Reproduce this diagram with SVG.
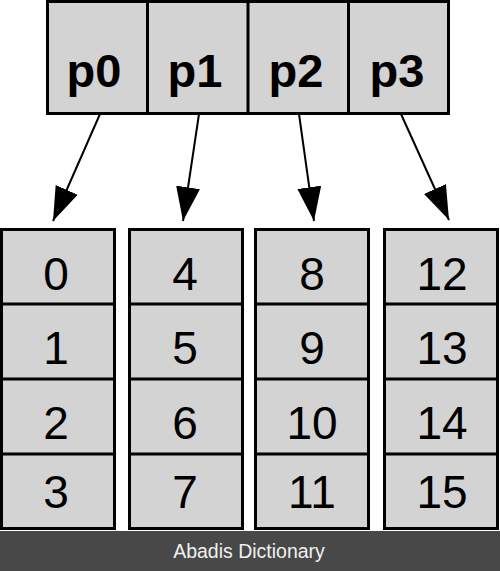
<svg xmlns="http://www.w3.org/2000/svg" width="500" height="571" viewBox="0 0 500 571">
<style>
.cell{fill:#d3d3d3;stroke:#000;stroke-width:3}
.div{stroke:#000;stroke-width:3}
.pl{font-family:"Liberation Sans",Arial,sans-serif;font-weight:bold;font-size:47px;text-anchor:middle;fill:#000}
.num{font-family:"Liberation Sans",Arial,sans-serif;font-size:46px;text-anchor:middle;fill:#000}
.conn{stroke:#000;stroke-width:2;fill:none;marker-end:url(#ah)}
.foot{font-family:"Liberation Sans",Arial,sans-serif;font-size:19.5px;text-anchor:middle;fill:#f0f0f0}
</style>
<defs>
<marker id="ah" markerUnits="userSpaceOnUse" viewBox="0 0 34 24" refX="34" refY="12" markerWidth="34" markerHeight="24" orient="auto">
<path d="M0,0 L34,12 L0,24 z" fill="#000"/>
</marker>
</defs>
<rect width="500" height="571" fill="#fff"/>
<g id="procs">
<rect class="cell" x="47.5" y="1.5" width="401" height="112"/>
<line class="div" x1="147.5" y1="1.5" x2="147.5" y2="113.5"/>
<line class="div" x1="248" y1="1.5" x2="248" y2="113.5"/>
<line class="div" x1="348.5" y1="1.5" x2="348.5" y2="113.5"/>
<text class="pl" x="94" y="87">p0</text>
<text class="pl" x="195" y="87">p1</text>
<text class="pl" x="296" y="87">p2</text>
<text class="pl" x="397" y="87">p3</text>
</g>
<g id="connectors">
<line class="conn" x1="100" y1="114" x2="53" y2="221"/>
<line class="conn" x1="199" y1="114" x2="183" y2="221"/>
<line class="conn" x1="299" y1="114" x2="314" y2="221"/>
<line class="conn" x1="401" y1="114" x2="449" y2="220"/>
</g>
<g id="col0">
<rect class="cell" x="1.5" y="229.5" width="113" height="299"/>
<line class="div" x1="1.5" y1="304" x2="114.5" y2="304"/>
<line class="div" x1="1.5" y1="379" x2="114.5" y2="379"/>
<line class="div" x1="1.5" y1="454" x2="114.5" y2="454"/>
<text class="num" x="56" y="290">0</text>
<text class="num" x="56" y="364">1</text>
<text class="num" x="56" y="439">2</text>
<text class="num" x="56" y="508">3</text>
</g>
<g id="col1">
<rect class="cell" x="129.5" y="229.5" width="113" height="299"/>
<line class="div" x1="129.5" y1="304" x2="242.5" y2="304"/>
<line class="div" x1="129.5" y1="379" x2="242.5" y2="379"/>
<line class="div" x1="129.5" y1="454" x2="242.5" y2="454"/>
<text class="num" x="185" y="290">4</text>
<text class="num" x="185" y="364">5</text>
<text class="num" x="185" y="439">6</text>
<text class="num" x="185" y="508">7</text>
</g>
<g id="col2">
<rect class="cell" x="255.5" y="229.5" width="113" height="299"/>
<line class="div" x1="255.5" y1="304" x2="368.5" y2="304"/>
<line class="div" x1="255.5" y1="379" x2="368.5" y2="379"/>
<line class="div" x1="255.5" y1="454" x2="368.5" y2="454"/>
<text class="num" x="312" y="290">8</text>
<text class="num" x="312" y="364">9</text>
<text class="num" x="312" y="439">10</text>
<text class="num" x="312" y="508">11</text>
</g>
<g id="col3">
<rect class="cell" x="384.5" y="229.5" width="113" height="299"/>
<line class="div" x1="384.5" y1="304" x2="497.5" y2="304"/>
<line class="div" x1="384.5" y1="379" x2="497.5" y2="379"/>
<line class="div" x1="384.5" y1="454" x2="497.5" y2="454"/>
<text class="num" x="442" y="290">12</text>
<text class="num" x="442" y="364">13</text>
<text class="num" x="442" y="439">14</text>
<text class="num" x="442" y="508">15</text>
</g>
<g id="footer">
<rect x="0" y="531" width="500" height="40" fill="#484848"/>
<text class="foot" x="249" y="558">Abadis Dictionary</text>
</g>
</svg>
